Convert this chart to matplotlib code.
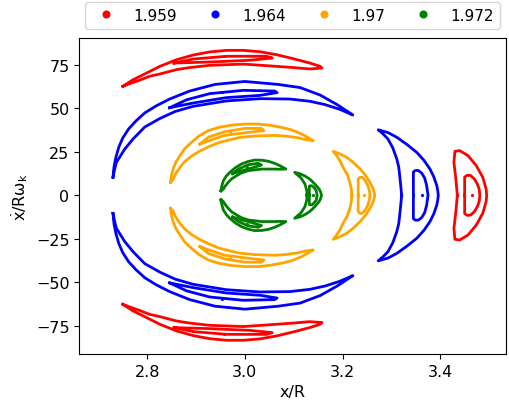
import numpy as np
import matplotlib
matplotlib.use('Agg')
import matplotlib.pyplot as plt

plt.rcParams['mathtext.default'] = 'regular'

labels = ['1.959', '1.964', '1.97', '1.972']
colors = ['red', 'blue', 'orange', 'green']

# upper islands (x/R, xdot/R w_k); the lower ones are the same with -y
red_arc_x = [2.750, 2.771, 2.792, 2.826, 2.860, 2.894, 2.928, 2.963, 2.997, 3.031,
             3.065, 3.099, 3.133, 3.154, 3.158,
             3.133, 3.099, 3.065, 2.997, 2.928, 2.887, 2.860, 2.826, 2.805, 2.785, 2.764]
red_arc_y = [62.7, 66.5, 69.4, 74.2, 78.0, 80.7, 82.5, 83.4, 83.4, 82.6,
             80.9, 78.6, 76.1, 74.2, 73.2,
             72.7, 73.5, 74.2, 75.5, 74.8, 73.5, 72.3, 69.8, 68.5, 66.3, 64.2]
red_in_x = [2.855, 2.894, 2.963, 3.044, 3.056, 3.010, 2.928]
red_in_y = [76.1, 78.4, 80.0, 80.0, 79.0, 77.7, 76.7]

blue_arc_x = [2.730, 2.732, 2.736, 2.742, 2.750, 2.762, 2.777, 2.795, 2.818, 2.846,
              2.887, 2.939, 3.000, 3.068, 3.113, 3.154, 3.190, 3.221,
              3.195, 3.164, 3.133, 3.092, 3.031, 2.962, 2.894, 2.857, 2.826, 2.795,
              2.771, 2.754, 2.737, 2.733]
blue_arc_y = [10.4, 16.3, 22.0, 27.8, 33.0, 38.2, 42.8, 47.4, 51.4, 55.4,
              60.0, 63.8, 65.5, 63.8, 62.0, 57.7, 52.0, 46.2,
              49.4, 52.2, 54.1, 55.4, 55.6, 54.3, 51.2, 48.2, 44.2, 39.3,
              32.4, 26.6, 19.0, 14.6]
blue_in_x = [2.846, 2.881, 2.928, 2.997, 3.061, 3.066, 3.031, 2.962, 2.894]
blue_in_y = [50.4, 55.0, 58.5, 60.4, 60.0, 59.1, 57.5, 56.2, 53.1]

orange_arc_x = [2.848, 2.850, 2.853, 2.859, 2.867, 2.877, 2.891, 2.906, 2.925, 2.947,
                2.973, 3.000, 3.027, 3.051, 3.075, 3.096, 3.116, 3.129, 3.140,
                3.123, 3.109, 3.082, 3.061, 3.020, 2.990, 2.973, 2.947, 2.925, 2.906,
                2.891, 2.877, 2.867, 2.858, 2.853]
orange_arc_y = [7.5, 11.7, 15.1, 19.2, 22.8, 26.9, 30.5, 34.1, 37.2, 39.1,
                40.4, 41.0, 41.0, 40.3, 39.1, 37.6, 35.3, 33.3, 31.4,
                32.1, 33.1, 34.1, 34.5, 34.1, 33.3, 32.2, 30.4, 27.8, 25.2,
                22.6, 19.4, 16.1, 12.3, 9.1]
orange_in_x = [2.908, 2.925, 2.959, 3.000, 3.034, 3.039, 3.007, 2.959, 2.925]
orange_in_y = [29.5, 33.4, 36.6, 38.5, 38.5, 37.2, 36.2, 34.5, 31.3]

green_arc_x = [2.951, 2.953, 2.956, 2.962, 2.969, 2.981, 2.993, 3.006, 3.020, 3.035,
               3.048, 3.061, 3.072, 3.084,
               3.072, 3.061, 3.034, 3.007, 2.993, 2.983, 2.973, 2.966, 2.960, 2.956]
green_arc_y = [2.6, 5.6, 8.4, 11.1, 13.2, 16.0, 18.0, 19.4, 20.3, 20.2,
               19.6, 18.4, 17.0, 15.1,
               15.0, 15.1, 15.1, 14.2, 12.9, 11.3, 9.5, 7.5, 5.4, 3.6]
green_in_x = [2.975, 2.987, 3.007, 3.027, 3.034, 3.014, 2.990]
green_in_y = [12.5, 15.1, 17.6, 18.4, 17.4, 15.7, 13.8]

# islands on the x axis: upper half of the outline, from the axis round to the axis
red_side_x = [3.435, 3.432, 3.428, 3.430, 3.440, 3.457, 3.474, 3.487, 3.494, 3.495]
red_side_y = [0, 9.4, 19.0, 25.3, 25.7, 22.8, 17.0, 10.4, 3.6, 0]
red_d_x = [3.450, 3.450, 3.455, 3.462, 3.470, 3.476, 3.480, 3.481]
red_d_y = [0, 10.5, 11.5, 11.4, 9.4, 6.5, 3.3, 0]

blue_side_x = [3.321, 3.319, 3.317, 3.315, 3.311, 3.303, 3.293, 3.283, 3.273,
               3.293, 3.311, 3.332, 3.352, 3.367, 3.379, 3.387, 3.393, 3.395, 3.396]
blue_side_y = [0, 5.9, 11.3, 16.3, 20.9, 27.2, 32.4, 35.3, 37.7,
               36.1, 33.4, 29.2, 24.7, 20.0, 15.1, 10.5, 5.5, 2.5, 0]
blue_d_x = [3.345, 3.345, 3.349, 3.355, 3.362, 3.368, 3.372, 3.375]
blue_d_y = [0, 13.4, 14.3, 14.3, 12.8, 10.0, 5.9, 0]

orange_side_x = [3.219, 3.218, 3.215, 3.210, 3.201, 3.195, 3.188, 3.181,
                 3.195, 3.208, 3.222, 3.236, 3.247, 3.256, 3.263, 3.266]
orange_side_y = [0, 3.6, 7.5, 11.7, 16.1, 19.7, 22.8, 25.3,
                 23.8, 21.9, 18.9, 15.1, 11.4, 7.5, 3.6, 0]
orange_d_x = [3.232, 3.232, 3.236, 3.241, 3.247, 3.252, 3.255, 3.256]
orange_d_y = [0, 9.4, 10.4, 10.2, 8.2, 5.4, 2.5, 0]

green_side_x = [3.127, 3.127, 3.123, 3.115, 3.102,
                3.113, 3.123, 3.132, 3.139, 3.146, 3.152, 3.155, 3.157]
green_side_y = [0, 2.5, 6.5, 10.0, 13.2,
                12.4, 11.1, 9.5, 7.7, 5.6, 3.6, 1.9, 0]
green_d_x = [3.132, 3.132, 3.137, 3.142, 3.146, 3.148]
green_d_y = [0, 5.4, 5.5, 4.3, 2.8, 0]

# fixed points at the island centres
centre_x = [[2.958, 3.465], [2.954, 3.363], [2.969, 3.244], [3.005, 3.140]]
centre_y = [[80.0, 0], [59.4, 0], [36.2, 0], [16.4, 0]]

upper = [[(red_arc_x, red_arc_y), (red_in_x, red_in_y)],
         [(blue_arc_x, blue_arc_y), (blue_in_x, blue_in_y)],
         [(orange_arc_x, orange_arc_y), (orange_in_x, orange_in_y)],
         [(green_arc_x, green_arc_y), (green_in_x, green_in_y)]]
side = [[(red_side_x, red_side_y), (red_d_x, red_d_y)],
        [(blue_side_x, blue_side_y), (blue_d_x, blue_d_y)],
        [(orange_side_x, orange_side_y), (orange_d_x, orange_d_y)],
        [(green_side_x, green_side_y), (green_d_x, green_d_y)]]


def closed(x, y):
    x = np.asarray(x)
    y = np.asarray(y)
    return np.append(x, x[0]), np.append(y, y[0])


def full_loop(x, y):
    # upper half + its mirror image below the axis
    x = np.asarray(x)
    y = np.asarray(y)
    return (np.concatenate([x, x[-2:0:-1], x[:1]]),
            np.concatenate([y, -y[-2:0:-1], y[:1]]))


fig = plt.figure(figsize=(5.09, 4.06), dpi=100)
ax = fig.add_axes([0.1558, 0.1256, 0.8377, 0.7783])

lw = 2.0
for i, c in enumerate(colors):
    for x, y in upper[i]:
        xx, yy = closed(x, y)
        ax.plot(xx, yy, color=c, lw=lw, solid_joinstyle='round')
        ax.plot(xx, -yy, color=c, lw=lw, solid_joinstyle='round')
    for x, y in side[i]:
        xx, yy = full_loop(x, y)
        ax.plot(xx, yy, color=c, lw=lw, solid_joinstyle='round')
    cx = np.array(centre_x[i])
    cy = np.array(centre_y[i])
    ax.plot(np.concatenate([cx, cx[:1]]), np.concatenate([cy, -cy[:1]]),
            '.', color=c, ms=2.5, ls='none')
    ax.plot([], [], '.', color=c, ls='none', label=labels[i])

ax.set_xlim(2.661, 3.534)
ax.set_ylim(-91.3, 90.5)
ax.set_xticks([2.8, 3.0, 3.2, 3.4])
ax.set_yticks([-75, -50, -25, 0, 25, 50, 75])
ax.tick_params(labelsize=11.5)
ax.set_xlabel('x/R', fontsize=11.5)
ax.set_ylabel(r'$\dot{x}/R\omega_k$', fontsize=11.5)

ax.legend(loc='lower left', bbox_to_anchor=(0, 1.012, 1, 0.1), mode='expand',
          ncol=4, fontsize=11, borderaxespad=0.35, markerscale=1.6)

fig.savefig('out.png', dpi=100)
